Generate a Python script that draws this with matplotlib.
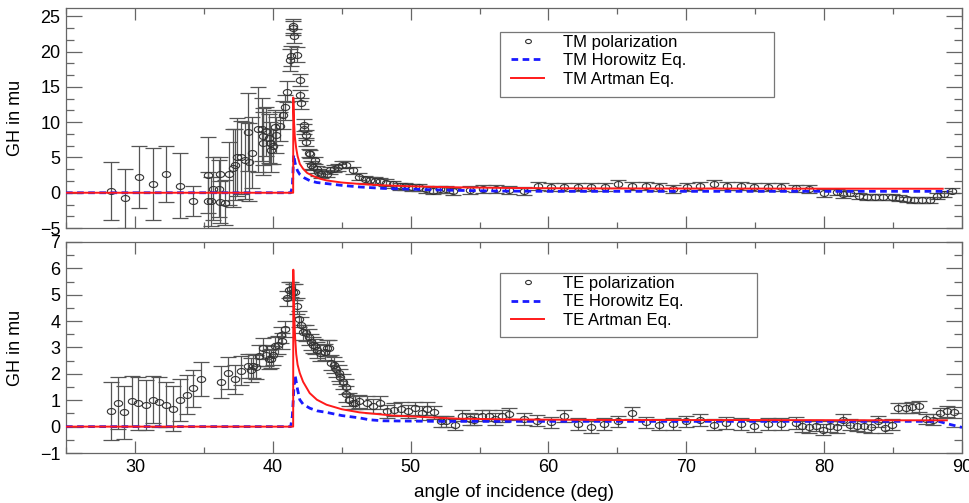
import matplotlib
matplotlib.use("Agg")
import matplotlib.pyplot as plt
import numpy as np
from matplotlib.path import Path
from matplotlib.transforms import Affine2D
from matplotlib.ticker import MultipleLocator, AutoMinorLocator
from matplotlib.patches import Rectangle

plt.rcParams['font.family'] = ['Liberation Sans', 'DejaVu Sans']

# ---- TM polarization data (angle, GH shift, error) ----
tm_x = [28.26, 29.28, 30.27, 31.28, 32.25, 33.26, 34.22, 35.27, 35.30, 35.50,
        35.65, 36.09, 36.20, 36.20, 36.50, 36.80, 37.08, 37.25, 37.37, 37.66,
        37.96, 38.27, 38.23, 38.50, 38.90, 39.20, 39.30, 39.30, 39.54, 39.70,
        39.80, 39.90, 40.00, 40.15, 40.25, 40.50, 40.75, 40.90, 41.04, 41.28,
        41.30, 41.47, 41.50, 41.55, 41.76, 41.96, 42.00, 42.05, 42.25, 42.28,
        42.44, 42.44, 42.63, 42.70, 42.80, 42.95, 43.04, 43.20, 43.30, 43.50,
        43.90, 44.13, 44.42, 44.70, 45.05, 45.34, 45.80, 46.25, 46.67, 47.03,
        47.40, 47.80, 48.24, 48.70, 49.20, 49.60, 50.10, 50.60, 51.10, 51.60,
        52.10, 52.60, 53.10, 54.28, 55.24, 56.21, 57.17, 58.26, 59.22, 60.19,
        61.16, 62.12, 63.09, 64.10, 65.07, 66.06, 67.08, 68.04, 69.00, 70.02,
        70.99, 71.98, 72.92, 73.96, 74.93, 75.94, 76.90, 77.95, 78.90, 80.00,
        80.90, 81.40, 81.90, 82.50, 83.10, 83.70, 84.30, 84.90, 85.40, 86.00,
        86.50, 87.10, 87.70, 88.20, 88.70, 89.30]
tm_y = [0.3, -0.8, 2.2, 1.3, 2.7, 1.0, -1.2, 2.5, -1.1, -1.2,
        0.6, 0.6, 2.6, -1.3, -1.4, 2.7, 3.5, 4.0, 5.1, 5.0,
        4.6, 4.4, 8.6, 5.7, 9.0, 9.0, 8.0, 7.0, 8.7, 7.7,
        7.1, 6.0, 6.6, 9.3, 8.2, 9.4, 11.0, 12.1, 14.3, 18.8,
        19.4, 23.4, 23.6, 22.2, 19.6, 16.0, 13.8, 12.7, 9.6, 9.1,
        8.2, 7.2, 5.6, 5.5, 3.9, 3.7, 4.6, 3.3, 2.9, 2.6,
        2.7, 3.2, 3.4, 3.6, 4.0, 4.0, 3.2, 2.3, 1.9, 1.8,
        1.7, 1.6, 1.4, 1.2, 0.9, 0.9, 0.8, 0.8, 0.5, 0.3,
        0.5, 0.5, 0.2, 0.34, 0.48, 0.48, 0.34, 0.24, 0.96, 0.86,
        0.81, 0.86, 0.86, 0.86, 1.2, 0.96, 0.96, 0.86, 0.57, 0.81,
        0.96, 1.2, 0.96, 0.96, 0.86, 0.86, 0.86, 0.62, 0.48, 0.0,
        0.1, -0.24, 0.0, -0.47, -0.57, -0.62, -0.6, -0.6, -0.76, -0.95,
        -1.0, -1.05, -1.0, -0.47, -0.2, 0.3]
tm_err = [4.1, 4.2, 4.4, 5.1, 4.0, 4.6, 2.1, 5.4, 4.0, 3.5,
          4.5, 4.0, 2.5, 3.0, 3.2, 4.5, 5.5, 5.0, 5.5, 5.2,
          5.5, 5.5, 5.5, 5.0, 6.0, 4.5, 4.0, 4.5, 3.5, 3.5,
          3.0, 3.0, 2.5, 2.5, 2.5, 2.0, 2.0, 1.8, 1.5, 1.6,
          1.4, 1.0, 1.0, 1.0, 1.0, 0.8, 0.8, 0.8, 0.8, 0.7,
          0.7, 0.6, 0.6, 0.6, 0.6, 0.5, 0.5, 0.5, 0.5, 0.5,
          0.5, 0.5, 0.5, 0.5, 0.5, 0.5, 0.5, 0.5, 0.5, 0.5,
          0.5, 0.5, 0.5, 0.5, 0.5, 0.5, 0.5, 0.5, 0.5, 0.5,
          0.5, 0.5, 0.5, 0.55, 0.55, 0.55, 0.55, 0.55, 0.55, 0.55,
          0.55, 0.55, 0.55, 0.55, 0.55, 0.55, 0.55, 0.55, 0.55, 0.55,
          0.55, 0.55, 0.55, 0.55, 0.55, 0.55, 0.55, 0.55, 0.55, 0.55,
          0.45, 0.45, 0.45, 0.4, 0.4, 0.4, 0.4, 0.4, 0.4, 0.4,
          0.4, 0.4, 0.4, 0.4, 0.4, 0.4]

# TM theory curves
tm_art_x = [25, 41.48, 41.49, 41.53, 41.6, 41.7, 41.8, 41.96, 42.2, 42.5, 43.0,
            43.5, 43.9, 45.0, 46.3, 48.0, 50.0, 53.0, 57.0, 62.0, 70.0, 80.0, 88.6]
tm_art_y = [0, 0, 13.5, 10.5, 8.0, 6.3, 5.2, 4.1, 3.4, 2.8, 2.3,
            1.95, 1.75, 1.45, 1.25, 1.05, 0.92, 0.78, 0.68, 0.62, 0.6, 0.58, 0.57]
tm_hor_x = [25, 41.3, 41.42, 41.52, 41.6, 41.7, 41.8, 41.96, 42.3, 42.7, 43.2,
            43.9, 45.0, 46.3, 48.0, 50.0, 53.0, 56.0, 60.0, 70.0, 80.0, 89.0]
tm_hor_y = [0, 0, 0.8, 5.4, 4.4, 3.6, 3.1, 2.6, 2.1, 1.7, 1.45,
            1.3, 1.05, 0.82, 0.62, 0.5, 0.35, 0.25, 0.2, 0.2, 0.2, 0.2]

# ---- TE polarization data ----
te_x = [28.26, 28.75, 29.22, 29.76, 30.24, 30.77, 31.28, 31.76, 32.25, 32.73,
        33.26, 33.75, 34.22, 34.76, 36.21, 36.76, 37.25, 37.73, 38.21, 38.40,
        38.60, 38.80, 39.00, 39.30, 39.50, 39.70, 39.90, 40.00, 40.15, 40.40,
        40.60, 40.70, 40.90, 41.06, 41.20, 41.35, 41.50, 41.60, 41.78, 41.90,
        42.05, 42.20, 42.40, 42.60, 42.75, 42.90, 43.04, 43.20, 43.45, 43.80,
        43.90, 44.10, 44.25, 44.45, 44.60, 44.80, 44.90, 45.10, 45.30, 45.34,
        45.55, 45.80, 46.00, 46.25, 46.80, 47.30, 47.80, 48.28, 48.80, 49.30,
        49.80, 50.30, 50.80, 51.20, 51.70, 52.20, 52.60, 53.20, 53.74, 54.28,
        54.60, 55.19, 55.70, 56.10, 56.60, 57.17, 58.20, 59.18, 60.15, 61.10,
        62.12, 63.09, 64.06, 65.07, 66.06, 67.08, 68.04, 69.00, 70.00, 71.00,
        72.00, 72.90, 73.96, 74.90, 75.90, 76.90, 77.95, 78.40, 78.90, 79.40,
        79.90, 80.40, 80.90, 81.40, 81.90, 82.40, 82.90, 83.40, 83.90, 84.40,
        84.90, 85.39, 85.90, 86.40, 86.90, 87.40, 87.90, 88.40, 88.90, 89.40]
te_y = [0.6, 0.9, 0.54, 0.96, 0.88, 0.83, 1.02, 0.92, 0.83, 0.68,
        1.0, 1.21, 1.46, 1.8, 1.68, 2.03, 1.8, 2.12, 2.31, 2.15,
        2.3, 2.25, 2.68, 2.97, 2.7, 2.55, 2.58, 2.7, 3.04, 3.1,
        3.48, 3.25, 3.69, 4.86, 5.18, 5.2, 5.1, 5.1, 4.57, 4.07,
        3.86, 3.57, 3.55, 3.41, 3.2, 3.1, 3.04, 2.9, 2.8, 2.82,
        2.97, 2.97, 2.43, 2.35, 2.18, 2.03, 1.9, 1.71, 1.52, 1.25,
        1.02, 0.9, 0.9, 0.96, 0.9, 0.78, 0.9, 0.58, 0.64, 0.68,
        0.58, 0.7, 0.52, 0.68, 0.54, 0.2, 0.2, 0.08, 0.42, 0.29,
        0.27, 0.42, 0.42, 0.29, 0.4, 0.48, 0.29, 0.23, 0.16, 0.4,
        0.1, -0.01, 0.1, 0.2, 0.52, 0.16, 0.08, 0.1, 0.2, 0.24,
        0.08, 0.14, 0.1, 0.01, 0.1, 0.1, 0.14, 0.01, -0.01, 0.04,
        -0.11, 0.01, -0.02, 0.27, 0.08, 0.04, 0.01, -0.02, 0.2, -0.04,
        0.08, 0.71, 0.71, 0.73, 0.77, 0.29, 0.27, 0.52, 0.58, 0.54]
te_err = [1.1, 1.0, 1.0, 0.95, 1.0, 0.95, 0.9, 0.95, 0.85, 0.85,
          0.8, 0.75, 0.7, 0.65, 0.6, 0.6, 0.55, 0.55, 0.45, 0.45,
          0.45, 0.45, 0.4, 0.4, 0.4, 0.35, 0.35, 0.35, 0.35, 0.35,
          0.3, 0.3, 0.3, 0.3, 0.3, 0.3, 0.3, 0.3, 0.3, 0.3,
          0.3, 0.3, 0.3, 0.3, 0.3, 0.3, 0.3, 0.3, 0.3, 0.3,
          0.3, 0.3, 0.3, 0.3, 0.3, 0.3, 0.3, 0.3, 0.3, 0.3,
          0.25, 0.25, 0.25, 0.25, 0.25, 0.25, 0.25, 0.25, 0.25, 0.25,
          0.25, 0.25, 0.25, 0.25, 0.25, 0.22, 0.22, 0.22, 0.22, 0.22,
          0.22, 0.22, 0.22, 0.22, 0.22, 0.22, 0.22, 0.22, 0.22, 0.22,
          0.22, 0.22, 0.22, 0.22, 0.22, 0.22, 0.22, 0.22, 0.22, 0.22,
          0.22, 0.22, 0.22, 0.22, 0.22, 0.22, 0.22, 0.22, 0.22, 0.22,
          0.22, 0.22, 0.22, 0.22, 0.22, 0.22, 0.22, 0.22, 0.22, 0.22,
          0.22, 0.2, 0.2, 0.2, 0.2, 0.2, 0.2, 0.2, 0.2, 0.2]

# TE theory curves
te_art_x = [25, 41.48, 41.49, 41.55, 41.62, 41.7, 41.8, 41.96, 42.2, 42.68, 43.2,
            43.9, 45.0, 46.3, 48.7, 51.1, 53.5, 58.0, 65.0, 75.0, 85.0, 88.9]
te_art_y = [0, 0, 5.95, 4.3, 3.4, 2.75, 2.35, 2.03, 1.7, 1.27, 1.02,
            0.83, 0.66, 0.54, 0.42, 0.36, 0.3, 0.27, 0.25, 0.25, 0.24, 0.24]
te_hor_x = [25, 41.3, 41.42, 41.55, 41.62, 41.7, 41.8, 41.96, 42.2, 42.68, 43.2,
            43.9, 45.0, 46.3, 47.0, 48.0, 52.0, 60.0, 70.0, 80.0, 88.3, 89.0, 90.0]
te_hor_y = [0, 0, 0.4, 1.6, 1.95, 1.7, 1.4, 1.02, 0.85, 0.7, 0.6,
            0.54, 0.42, 0.33, 0.26, 0.22, 0.2, 0.2, 0.2, 0.2, 0.2, 0.1, -0.03]

# ellipse-shaped open marker
ellipse = Path.unit_circle().transformed(Affine2D().scale(1.4, 1.0))

fig = plt.figure(figsize=(9.69, 5.03), dpi=100)
ax1 = fig.add_axes([0.0681, 0.5467, 0.9247, 0.4374])
ax2 = fig.add_axes([0.0681, 0.0994, 0.9247, 0.4195])

red = '#ff1a1a'
blue = '#1a1aff'
axcol = '#666666'


def draw(ax, x, y, err, ax_x, ax_y, hx, hy, tag):
    ax.errorbar(x, y, yerr=err, fmt='none', ecolor='#555555', elinewidth=0.9,
                capsize=6, capthick=0.9, zorder=2)
    ax.plot(x, y, ls='none', marker=ellipse, ms=6, mfc='none', mec='#333333',
            mew=0.8, zorder=3, label=tag + ' polarization')
    ax.plot(hx, hy, color=blue, lw=2.0, dashes=(2.4, 1.6), zorder=4,
            label=tag + ' Horowitz Eq.')
    ax.plot(ax_x, ax_y, color=red, lw=1.4, zorder=5, label=tag + ' Artman Eq.')
    ax.set_xlim(25, 90)
    ax.xaxis.set_major_locator(MultipleLocator(10))
    ax.xaxis.set_minor_locator(MultipleLocator(5))
    ax.tick_params(which='both', direction='in', top=True, right=True,
                   color=axcol, width=0.9, labelsize=13, pad=4)
    ax.tick_params(axis='y', which='major', length=11.5)
    ax.tick_params(axis='y', which='minor', length=5.5)
    ax.tick_params(axis='x', which='major', length=8.5)
    ax.tick_params(axis='x', which='minor', length=4.3)
    for s in ax.spines.values():
        s.set_color(axcol)
        s.set_linewidth(0.9)
    ax.set_ylabel('GH in mu', fontsize=13)
    ax.yaxis.set_label_coords(-0.047, 0.5)


draw(ax1, tm_x, tm_y, tm_err, tm_art_x, tm_art_y, tm_hor_x, tm_hor_y, 'TM')
draw(ax2, te_x, te_y, te_err, te_art_x, te_art_y, te_hor_x, te_hor_y, 'TE')

ax1.set_ylim(-5, 26.2)
ax1.yaxis.set_major_locator(MultipleLocator(5))
ax1.yaxis.set_minor_locator(AutoMinorLocator(3))
ax1.tick_params(axis='x', labelbottom=False)

ax2.set_ylim(-1, 7)
ax2.yaxis.set_major_locator(MultipleLocator(1))
ax2.yaxis.set_minor_locator(MultipleLocator(0.5))
ax2.set_xlabel('angle of incidence (deg)', fontsize=13.5, labelpad=6)

# legends with plain rectangular frames
for ax, (x0, y0, x1, y1) in [(ax1, (500, 32, 774, 97)), (ax2, (500, 273, 757, 337))]:
    fig.patches.append(Rectangle((x0 / 969, 1 - y1 / 503), (x1 - x0) / 969,
                                 (y1 - y0) / 503, transform=fig.transFigure,
                                 fill=False, edgecolor='#777777', lw=0.9))
    h, l = ax.get_legend_handles_labels()
    fig.legend(h, l, loc='upper left', bbox_to_anchor=((x0 + 11) / 969, 1 - (y0 + 3) / 503),
               frameon=False, fontsize=12, handlelength=2.0, handletextpad=1.1,
               labelspacing=0.2, borderpad=0, borderaxespad=0, markerscale=0.7)

fig.savefig('out.png', dpi=100)
